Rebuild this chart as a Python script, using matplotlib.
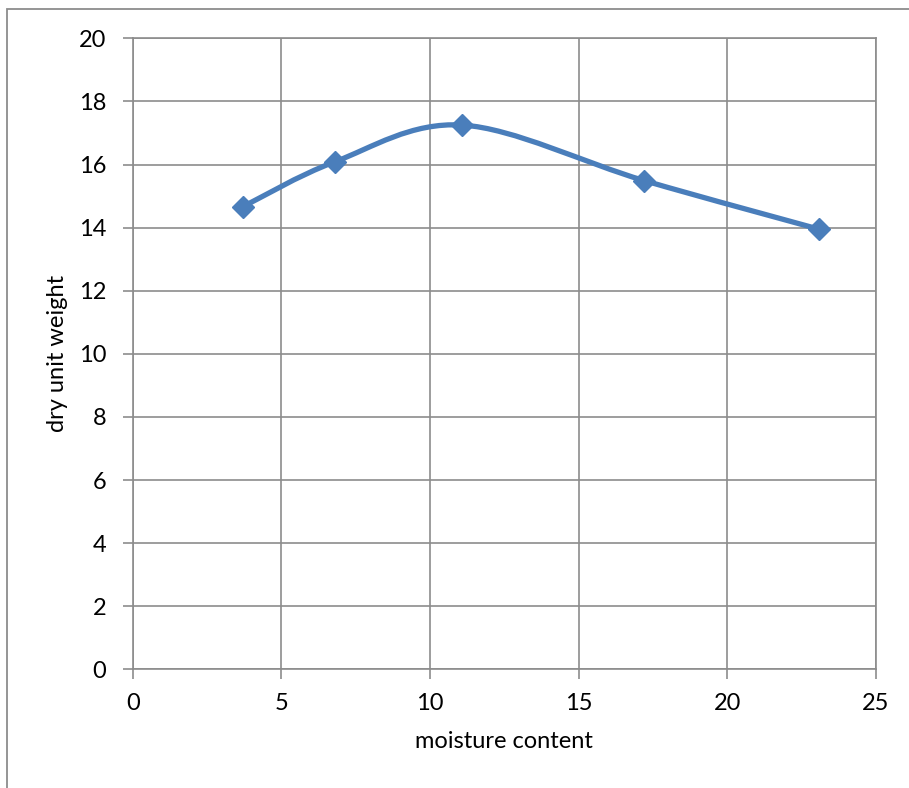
""" Compaction curve: dry unit weight vs moisture content. """

import matplotlib
matplotlib.use("Agg")
import matplotlib.pyplot as plt
from matplotlib.path import Path
from matplotlib.patches import PathPatch, Rectangle

moisture = [3.70, 6.81, 11.09, 17.21, 23.09]
dry_weight = [14.66, 16.09, 17.25, 15.49, 13.95]
x_ticks = [0, 5, 10, 15, 20, 25]
y_ticks = [0, 2, 4, 6, 8, 10, 12, 14, 16, 18, 20]

LINE_COLOR = "#4a7ebb"
GRID_COLOR = "#8c8c8c"
FS = 17

plt.rcParams["font.family"] = ["Lato", "DejaVu Sans"]


def smooth_path(xs, ys):
    # cubic bezier through every point, like a spreadsheet "smoothed line"
    pts = list(zip(xs, ys))
    verts = [pts[0]]
    codes = [Path.MOVETO]
    n = len(pts)
    for i in range(n - 1):
        p0 = pts[max(i - 1, 0)]
        p1 = pts[i]
        p2 = pts[i + 1]
        p3 = pts[min(i + 2, n - 1)]
        c1 = (p1[0] + (p2[0] - p0[0]) / 6, p1[1] + (p2[1] - p0[1]) / 6)
        c2 = (p2[0] - (p3[0] - p1[0]) / 6, p2[1] - (p3[1] - p1[1]) / 6)
        verts += [c1, c2, p2]
        codes += [Path.CURVE4] * 3
    return Path(verts, codes)


fig = plt.figure(figsize=(9.09, 7.88), dpi=100)
ax = fig.add_axes([0.146, 0.1506, 0.8174, 0.8008])

# outer chart border
fig.patches.append(Rectangle((7 / 909, -0.2), 2, 1.2 - 9 / 788,
                             transform=fig.transFigure, fill=False,
                             edgecolor=GRID_COLOR, lw=1.3))

ax.set_xlim(0, 25)
ax.set_ylim(0, 20)
ax.set_xticks(x_ticks)
ax.set_yticks(y_ticks)
ax.grid(True, color=GRID_COLOR, lw=1.2)
ax.set_axisbelow(True)
for sp in ax.spines.values():
    sp.set_color(GRID_COLOR)
    sp.set_linewidth(1.2)
ax.tick_params(length=7, width=1.2, color=GRID_COLOR, labelsize=FS)
ax.tick_params(axis="y", pad=12)
ax.tick_params(axis="x", pad=10)

ax.add_patch(PathPatch(smooth_path(moisture, dry_weight), fill=False,
                       edgecolor=LINE_COLOR, lw=3.8, capstyle="round",
                       joinstyle="round", zorder=3))
ax.plot(moisture, dry_weight, linestyle="none", marker="D", markersize=11,
        color=LINE_COLOR, zorder=4)

ax.set_xlabel("moisture content", fontsize=FS, labelpad=12)
ax.set_ylabel("dry unit weight", fontsize=FS, labelpad=8)

fig.savefig("out.png", dpi=100)
